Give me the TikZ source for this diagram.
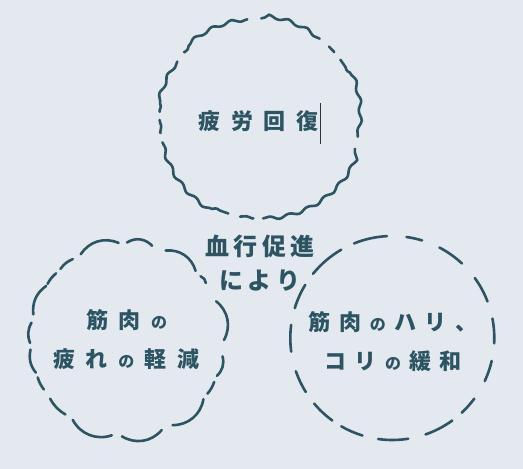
\documentclass[tikz,border=0pt]{standalone}
\usepackage{fontspec}
\newfontfamily\jp{Noto Sans CJK JP}
\usetikzlibrary{decorations.pathmorphing,calc}
\definecolor{ink}{HTML}{2D5462}
\definecolor{paper}{HTML}{E3E9EE}
\newlength{\wordgap}
\newcommand{\wg}{\kern\wordgap}
\newcommand{\sno}{{\fontsize{16}{39}\selectfont の}}
\tikzset{
  wavy/.style={draw=ink, line width=2.6pt, line cap=round, decorate,
    decoration={snake, segment length=20pt, amplitude=1.6pt}},
  ring/.style={draw=ink, line width=2.6pt, line cap=round},
  puff/.style={draw=ink, line width=2.6pt, line cap=round},
  word/.style={text=ink, align=center, inner sep=0pt,
    font=\jp\bfseries\fontsize{22}{39}\selectfont\setlength{\wordgap}{10.5pt}},
}
\begin{document}
\begin{tikzpicture}[x=1pt,y=1pt]
        \useasboundingbox (0,0) rectangle (523,469);
        \fill[paper] (0,0) rectangle (523,469);

        \coordinate (top) at (259.5,350.5);
        \coordinate (cloud) at (127,129.5);
        \coordinate (round) at (392.3,131);

        % Wavy circle on top
        \foreach \a/\b in {-10.5/36, 41.6/46, 53/89, 97/138.6, 145.3/176.2,
                           180.8/188.4, 193.8/251.8, 258.8/266.5, 272.1/342.3}
          \draw[wavy] ($(top)+(\a:100)$) arc[start angle=\a, end angle=\b, radius=100];

        % Cloud on the left
        \foreach \a/\b/\k in {-0.3/23.2/40, 35.6/40.7/30, 45/66.5/40, 75/90/40,
                              95/118.5/40, 124/133.3/15, 137/145/10, 146.5/165/30,
                              170/182/25, 186/200/25, 203/211/10, 217.6/230.6/15,
                              236/261/40, 267/291/40, 298/322/40, 326/334/10, 338/350/30}
          \draw[puff] ($(cloud)+(\a:97)$) to[bend right=\k] ($(cloud)+(\b:97)$);

        % Dashed circle on the right
        \foreach \a/\b in {93/112, 73/82, 47/62.5, 21/36, -3/11, -25/-13, -47/-36.5,
                           -71/-54, -98/-81, -120/-107, -140/-126, -161/-148,
                           172.6/187.7, 148.6/163, 120/141}
          \draw[ring] ($(round)+(\a:102)$) arc[start angle=\a, end angle=\b, radius=102];

        % Labels
        \node[word] (recovery) at (258.5,348) {疲\wg 労\wg 回\wg 復};
        \node[word, font=\jp\bfseries\fontsize{24}{33.5}\selectfont\setlength{\wordgap}{4.3pt}]
          (flow) at (260,206) {血\wg 行\wg 促\wg 進\\に\wg よ\wg り};
        \node[word] (tired) at (126.5,129.5) {筋\wg 肉\wg\sno\\疲\wg れ\wg\sno\wg 軽\wg 減};
        \node[word, font=\jp\bfseries\fontsize{22}{39}\selectfont\setlength{\wordgap}{8.5pt}]
          (stiff) at (393,127.5) {筋\wg 肉\wg\sno\wg ハ\wg リ\wg 、\\コ\wg リ\wg\sno\wg 緩\wg 和};

        % Text cursor
        \draw[line width=0.8pt, black!80] (320.7,366) -- (320.7,325);
\end{tikzpicture}
\end{document}
